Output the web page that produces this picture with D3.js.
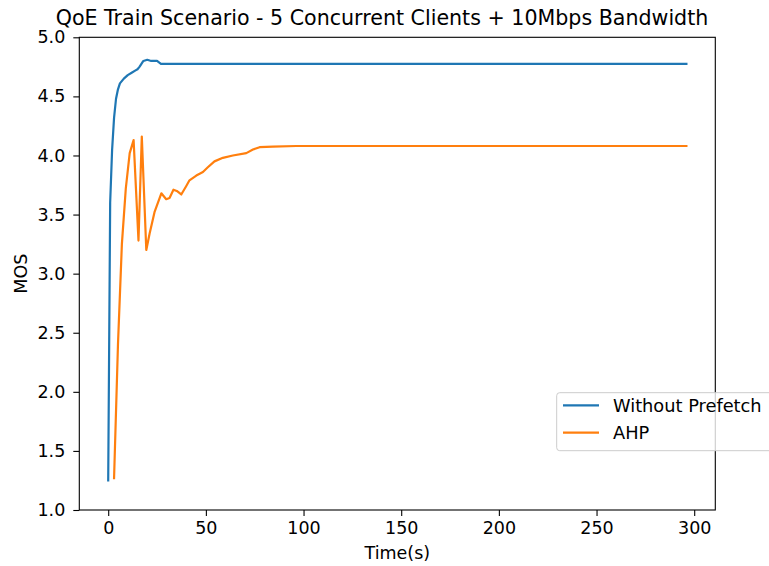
<!DOCTYPE html>
<html><head><meta charset="utf-8">
<script src="https://cdn.jsdelivr.net/npm/d3@7"></script>
<style>body{margin:0;background:#fff}svg{display:block}text{font-family:"DejaVu Sans",sans-serif;fill:#000}</style>
</head><body>
<svg id="c" width="769" height="566"></svg>
<script>
const title = "QoE Train Scenario - 5 Concurrent Clients + 10Mbps Bandwidth";
const xLabel = "Time(s)";
const yLabel = "MOS";
const seriesNames = ["Without Prefetch", "AHP"];
const seriesColors = ["#1f77b4", "#ff7f0e"];
const xTicks = [0, 50, 100, 150, 200, 250, 300];
const yTicks = [1.0, 1.5, 2.0, 2.5, 3.0, 3.5, 4.0, 4.5, 5.0];

const withoutTime = [0, 1, 2, 3, 4, 5, 6, 8, 10, 12, 14, 15, 16, 18, 20, 22, 24, 25, 27, 296];
const withoutMOS  = [1.25, 3.6, 4.05, 4.32, 4.48, 4.56, 4.61, 4.65, 4.68, 4.70, 4.72, 4.73, 4.75, 4.80, 4.81, 4.80, 4.80, 4.80, 4.775, 4.775];

const ahpTime = [3, 5, 7, 9, 11, 13, 15.5, 17.2, 19.5, 21.2, 23.7, 27.2, 29.7, 31.4, 33.4, 35.1, 37.4, 39.9, 41.6, 45.1, 48.5, 51, 54.4, 58.7, 63.8, 70.7, 74.1, 77.5, 84.3, 96.3, 296];
const ahpMOS  = [1.27, 2.4, 3.25, 3.72, 4.02, 4.13, 3.28, 4.16, 3.20, 3.34, 3.52, 3.68, 3.63, 3.64, 3.71, 3.70, 3.67, 3.74, 3.79, 3.83, 3.86, 3.90, 3.95, 3.98, 4.00, 4.02, 4.05, 4.07, 4.075, 4.08, 4.08];

const L = 79.3, R = 715.3, T = 37.3, B = 510;
const FS = 17.5;
const svg = d3.select("#c");
const x = d3.scaleLinear().domain([-14.8, 310.8]).range([L, R]);
const y = d3.scaleLinear().domain([1, 5]).range([B, T]);

const series = [
  withoutTime.map((t, i) => [t, withoutMOS[i]]),
  ahpTime.map((t, i) => [t, ahpMOS[i]])
];
const line = d3.line().x(d => x(d[0])).y(d => y(d[1]));
series.forEach((s, i) => {
  svg.append("path").attr("d", line(s)).attr("fill", "none")
    .attr("stroke", seriesColors[i]).attr("stroke-width", 2.2)
    .attr("stroke-linejoin", "round").attr("stroke-linecap", "square");
});

const xAxis = d3.axisBottom(x).tickValues(xTicks).tickFormat(d3.format("d")).tickSize(6).tickPadding(6);
const gx = svg.append("g").attr("transform", `translate(0,${B})`).call(xAxis);
const yAxis = d3.axisLeft(y).tickValues(yTicks).tickFormat(d3.format(".1f")).tickSize(6).tickPadding(8);
const gy = svg.append("g").attr("transform", `translate(${L},0)`).call(yAxis);
[gx, gy].forEach(g => {
  g.select(".domain").remove();
  g.selectAll("line").attr("stroke", "#000").attr("stroke-width", 1.1);
  g.selectAll("text").attr("font-size", FS + "px").attr("font-family", "DejaVu Sans").attr("fill", "#222");
});
svg.append("rect").attr("x", L).attr("y", T).attr("width", R - L).attr("height", B - T)
  .attr("fill", "none").attr("stroke", "#000").attr("stroke-width", 1.1);

svg.append("text").attr("x", 382).attr("y", 25).attr("text-anchor", "middle")
  .attr("font-size", "20.6px").attr("fill", "#222").text(title);
svg.append("text").attr("x", (L + R) / 2).attr("y", 559).attr("text-anchor", "middle")
  .attr("font-size", FS + "px").attr("fill", "#222").text(xLabel);
svg.append("text").attr("transform", `translate(27,${(T + B) / 2}) rotate(-90)`).attr("text-anchor", "middle")
  .attr("font-size", FS + "px").attr("fill", "#222").text(yLabel);

const lg = svg.append("g");
lg.append("rect").attr("x", 556.7).attr("y", 392.7).attr("width", 230).attr("height", 58).attr("rx", 3)
  .attr("fill", "#fff").attr("fill-opacity", 0.8).attr("stroke", "#ccc").attr("stroke-width", 1);
seriesNames.forEach((n, i) => {
  const yy = 405.3 + i * 27.4;
  lg.append("line").attr("x1", 563).attr("x2", 599).attr("y1", yy).attr("y2", yy)
    .attr("stroke", seriesColors[i]).attr("stroke-width", 2.2);
  lg.append("text").attr("x", 613).attr("y", yy + 6.5).attr("font-size", "17.8px").attr("fill", "#222").text(n);
});
</script>
</body></html>
